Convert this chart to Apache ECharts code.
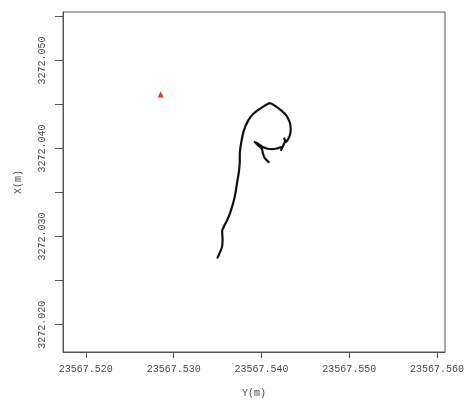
<!DOCTYPE html>
<html>
<head>
<meta charset="utf-8">
<script src="https://cdn.jsdelivr.net/npm/echarts@6/dist/echarts.min.js"></script>
<style>
  html, body { margin: 0; padding: 0; background: #fff; }
  #chart { width: 470px; height: 403px; }
</style>
</head>
<body>
<div id="chart"></div>
<script>
// Track coordinates: Y (easting, m) and X (northing, m)
const trackY = [
  23567.53500, 23567.53526, 23567.53552, 23567.53557, 23567.53552, 23567.53575,
  23567.53614, 23567.53651, 23567.53689, 23567.53708, 23567.53723, 23567.53742,
  23567.53753, 23567.53753, 23567.53773, 23567.53799, 23567.53848, 23567.53905,
  23567.53981, 23567.54038, 23567.54094, 23567.54151, 23567.54227, 23567.54284,
  23567.54322, 23567.54333, 23567.54327, 23567.54305, 23567.54276, 23567.54259,
  23567.54270, 23567.54248, 23567.54225, 23567.54231, 23567.54208, 23567.54174,
  23567.54117, 23567.54060, 23567.54015, 23567.53981, 23567.53947, 23567.53924,
  23567.53958, 23567.53992, 23567.54009, 23567.54015, 23567.54038, 23567.54083
];
const trackX = [
  3272.02761, 3272.02818, 3272.02886, 3272.02969, 3272.03064, 3272.03121,
  3272.03197, 3272.03292, 3272.03425, 3272.03519, 3272.03615, 3272.03729,
  3272.03861, 3272.03937, 3272.04089, 3272.04203, 3272.04317, 3272.04393,
  3272.04450, 3272.04487, 3272.04515, 3272.04487, 3272.04431, 3272.04374,
  3272.04298, 3272.04222, 3272.04165, 3272.04108, 3272.04074, 3272.04114,
  3272.04085, 3272.04034, 3272.03983, 3272.04017, 3272.04011, 3272.04000,
  3272.03994, 3272.04000, 3272.04017, 3272.04040, 3272.04063, 3272.04074,
  3272.04040, 3272.04011, 3272.03983, 3272.03949, 3272.03892, 3272.03846
];
// Reference point
const refY = [23567.52852];
const refX = [3272.04613];

// Axis ticks and labels
const yTicks = [23567.52, 23567.53, 23567.54, 23567.55, 23567.56];
const xTicks = [3272.020, 3272.025, 3272.030, 3272.035, 3272.040, 3272.045, 3272.050, 3272.055];
const xLabels = [3272.020, 3272.030, 3272.040, 3272.050];

const axisFont = { fontFamily: 'Liberation Mono', fontSize: 10, color: '#4a4a4a' };
const lineStyle = { color: '#555', width: 1 };

const chart = echarts.init(document.getElementById('chart'), null, { renderer: 'canvas' });
chart.setOption({
  animation: false,
  backgroundColor: '#fff',
  grid: {
    left: 63, top: 12, right: 25, bottom: 51,
    show: true, borderColor: '#555', borderWidth: 1, backgroundColor: 'transparent'
  },
  xAxis: {
    type: 'value',
    min: 23567.5174, max: 23567.5609,
    name: 'Y(m)', nameLocation: 'middle', nameGap: 36,
    nameTextStyle: axisFont,
    axisLine: { show: true, lineStyle: lineStyle },
    axisTick: { show: true, length: 6, inside: false, lineStyle: lineStyle, customValues: yTicks },
    axisLabel: { ...axisFont, margin: 12, customValues: yTicks,
      formatter: v => v.toFixed(3) },
    splitLine: { show: false }
  },
  yAxis: {
    type: 'value',
    min: 3272.0169, max: 3272.0555,
    name: 'X(m)', nameLocation: 'middle', nameGap: 40, nameRotate: 90,
    nameTextStyle: axisFont,
    axisLine: { show: true, lineStyle: lineStyle },
    axisTick: { show: true, length: 8, inside: false, lineStyle: lineStyle, customValues: xTicks },
    axisLabel: { ...axisFont, margin: 16, rotate: 90, customValues: xLabels,
      formatter: v => v.toFixed(3) },
    splitLine: { show: false }
  },
  series: [
    {
      type: 'line',
      data: trackY.map((y, i) => [y, trackX[i]]),
      showSymbol: false,
      smooth: 0.15,
      lineStyle: { color: '#111', width: 2.2, join: 'round', cap: 'round' }
    },
    {
      type: 'scatter',
      data: refY.map((y, i) => [y, refX[i]]),
      symbol: 'triangle',
      symbolSize: 6,
      itemStyle: { color: '#e00000' }
    }
  ]
});
</script>
</body>
</html>
